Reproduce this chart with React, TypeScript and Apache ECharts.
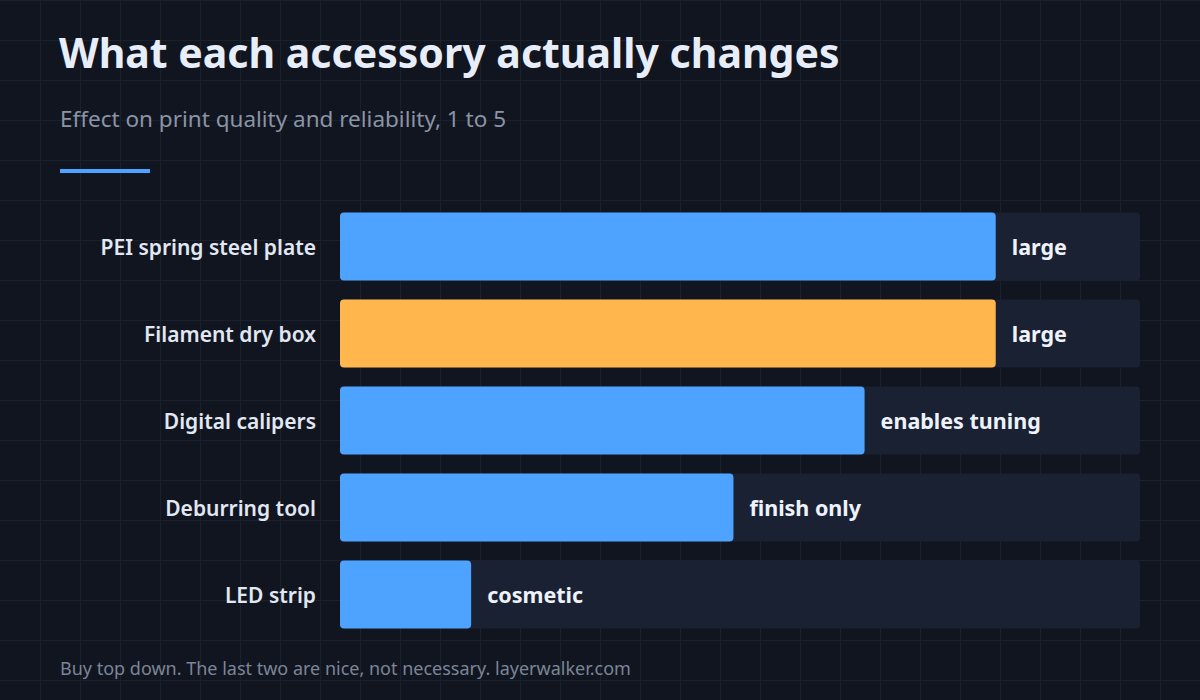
import { useEffect, useRef } from "react";
import * as echarts from "echarts";

const accessories = [
  "PEI spring steel plate",
  "Filament dry box",
  "Digital calipers",
  "Deburring tool",
  "LED strip",
];
const effect = [5, 5, 4, 3, 1];
const notes = ["large", "large", "enables tuning", "finish only", "cosmetic"];
const highlighted = [false, true, false, false, false];

const BG = "#11151f";
const GRIDLINE = "#1b202d";
const BLUE = "#4da3ff";
const ORANGE = "#ffb74d";
const TRACK = "#1a2133";
const FONT = "'Noto Sans', 'Open Sans', sans-serif";

export default function App() {
  const ref = useRef<HTMLDivElement>(null);
  useEffect(() => {
    document.body.style.margin = "0";
    if (!ref.current) return;
    const chart = echarts.init(ref.current, null, { renderer: "svg" });

    // faint 40px background grid
    const lines: any[] = [];
    for (let x = 40; x < 1200; x += 40) {
      lines.push({
        type: "line",
        silent: true,
        z: -10,
        shape: { x1: x + 0.5, y1: 0, x2: x + 0.5, y2: 700 },
        style: { stroke: GRIDLINE, lineWidth: 1 },
      });
    }
    for (let y = 0; y < 700; y += 40) {
      lines.push({
        type: "line",
        silent: true,
        z: -10,
        shape: { x1: 0, y1: y + 0.5, x2: 1200, y2: y + 0.5 },
        style: { stroke: GRIDLINE, lineWidth: 1 },
      });
    }

    chart.setOption({
      animation: false,
      backgroundColor: BG,
      textStyle: { fontFamily: FONT },
      graphic: [
        ...lines,
        {
          type: "text",
          left: 59,
          top: 31,
          style: {
            text: "What each accessory actually changes",
            fill: "#e8eef9",
            font: `bold 41px ${FONT}`,
          },
        },
        {
          type: "text",
          left: 60,
          top: 107,
          style: {
            text: "Effect on print quality and reliability, 1 to 5",
            fill: "#8a94a6",
            font: `22.5px ${FONT}`,
          },
        },
        {
          type: "rect",
          shape: { x: 60, y: 169, width: 90, height: 4 },
          style: { fill: BLUE },
        },
        {
          type: "text",
          left: 60,
          top: 659,
          style: {
            text: "Buy top down. The last two are nice, not necessary. layerwalker.com",
            fill: "#7b8598",
            font: `18px ${FONT}`,
          },
        },
      ],
      grid: { left: 340, right: 60, top: 203, bottom: 62, containLabel: false },
      xAxis: {
        type: "value",
        min: 0,
        max: 6.1,
        show: false,
      },
      yAxis: {
        type: "category",
        inverse: true,
        data: accessories,
        axisLine: { show: false },
        axisTick: { show: false },
        splitLine: { show: false },
        axisLabel: {
          margin: 24,
          color: "#e2e8f3",
          fontSize: 21,
          fontWeight: 600,
          fontFamily: FONT,
        },
      },
      series: [
        {
          type: "bar",
          barWidth: 68,
          data: effect.map((v, i) => ({
            value: v,
            itemStyle: { color: highlighted[i] ? ORANGE : BLUE },
          })),
          itemStyle: { borderRadius: 4 },
          showBackground: true,
          backgroundStyle: { color: TRACK, borderRadius: 4 },
          label: {
            show: true,
            position: "right",
            distance: 16,
            formatter: (p: any) => notes[p.dataIndex],
            color: "#eef2fa",
            fontSize: 21.5,
            fontWeight: "bold",
            fontFamily: FONT,
          },
        },
      ],
    });
    return () => chart.dispose();
  }, []);
  return <div ref={ref} style={{ width: 1200, height: 700 }} />;
}
